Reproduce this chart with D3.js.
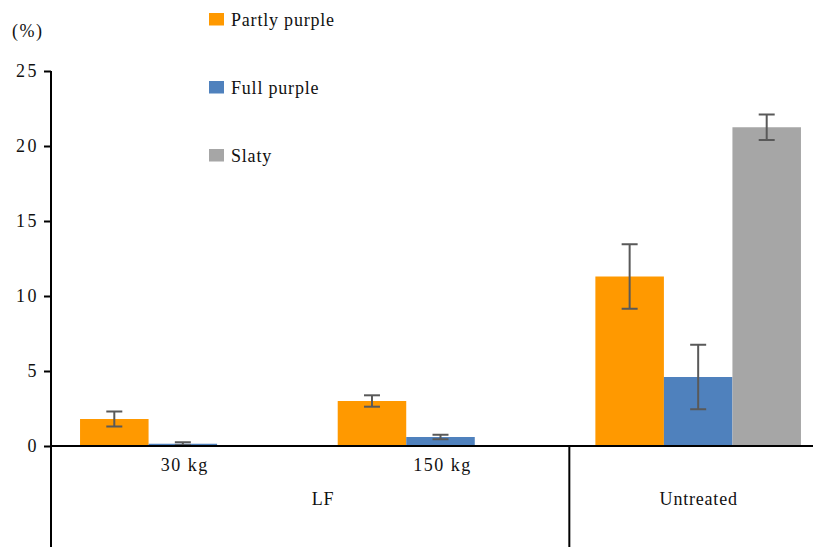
<!DOCTYPE html>
<html>
<head>
<meta charset="utf-8">
<script src="https://cdn.jsdelivr.net/npm/d3@7"></script>
<style>
  html, body { margin: 0; padding: 0; background: #fff; }
  svg { display: block; }
</style>
</head>
<body>
<svg id="chart" width="813" height="547"></svg>
<script>
// Subgroups along the x axis and their parent groups
const categories = ["30 kg", "150 kg", "Untreated"];
const groupOf = ["LF", "LF", "Untreated"];
const series = ["Partly purple", "Full purple", "Slaty"];
const colors = ["#FF9900", "#4F81BD", "#A6A6A6"];

// Mean percentages per category, one array per series (null = no bar)
const partlyPurple = [1.8, 3.0, 11.3];
const fullPurple = [0.15, 0.6, 4.6];
const slaty = [null, null, 21.25];

// Error bar half-widths
const partlyPurpleErr = [0.5, 0.38, 2.15];
const fullPurpleErr = [0.1, 0.15, 2.15];
const slatyErr = [null, null, 0.85];

const yTicks = [0, 5, 10, 15, 20, 25];

const values = [partlyPurple, fullPurple, slaty];
const errors = [partlyPurpleErr, fullPurpleErr, slatyErr];

const FONT = "Liberation Serif";
const INK = "#111";
const svg = d3.select("#chart").attr("font-family", FONT);
const plotLeft = 51, plotRight = 824, plotTop = 71, zeroY = 446, bottomEdge = 547;
const shift = 3;

const y = d3.scaleLinear().domain([0, 25]).range([zeroY, plotTop]);
const x0 = d3.scaleBand().domain(categories).range([plotLeft + shift, plotRight + shift]);
const x1 = d3.scaleBand().domain(series).range([0, x0.bandwidth()])
  .paddingInner(0).paddingOuter(0.38);

// Bars
const rows = [];
categories.forEach((c, i) => {
  series.forEach((s, j) => {
    if (values[j][i] != null) rows.push({ c, s, j, v: values[j][i], e: errors[j][i] });
  });
});

svg.append("g").selectAll("rect").data(rows).join("rect")
  .attr("x", d => x0(d.c) + x1(d.s))
  .attr("y", d => y(d.v))
  .attr("width", x1.bandwidth())
  .attr("height", d => y(0) - y(d.v))
  .attr("fill", d => colors[d.j]);

// Error bars
const eg = svg.append("g").attr("stroke", "#595959").attr("stroke-width", 2).attr("fill", "none");
rows.forEach(d => {
  const cx = x0(d.c) + x1(d.s) + x1.bandwidth() / 2;
  const y1 = y(d.v + d.e), y2 = y(Math.max(0, d.v - d.e));
  eg.append("line").attr("x1", cx).attr("x2", cx).attr("y1", y1).attr("y2", y2);
  eg.append("line").attr("x1", cx - 8).attr("x2", cx + 8).attr("y1", y1).attr("y2", y1);
  eg.append("line").attr("x1", cx - 8).attr("x2", cx + 8).attr("y1", y2).attr("y2", y2);
});

// Y axis
const yAxis = d3.axisLeft(y).tickValues(yTicks).tickSize(7).tickPadding(5);
const ya = svg.append("g").attr("transform", `translate(${plotLeft},0)`).call(yAxis);
ya.attr("font-family", FONT).attr("font-size", 18);
ya.select(".domain").remove();
ya.selectAll(".tick line").attr("stroke", "#000").attr("stroke-width", 2);
ya.selectAll(".tick text").attr("fill", INK).attr("letter-spacing", 2.5);
svg.append("line").attr("x1", plotLeft).attr("x2", plotLeft).attr("y1", plotTop).attr("y2", bottomEdge)
  .attr("stroke", "#000").attr("stroke-width", 2);

// X axis baseline
svg.append("line").attr("x1", plotLeft).attr("x2", 813).attr("y1", zeroY).attr("y2", zeroY)
  .attr("stroke", "#000").attr("stroke-width", 2);

// Divider between the LF and Untreated groups
const divX = x0("Untreated");
svg.append("line").attr("x1", divX).attr("x2", divX).attr("y1", zeroY).attr("y2", bottomEdge)
  .attr("stroke", "#000").attr("stroke-width", 2);

// Subcategory labels, centred on their band
svg.append("g").selectAll("text").data(categories.filter((c, i) => groupOf[i] !== c)).join("text")
  .attr("x", c => x0(c) + x0.bandwidth() / 2 + 2)
  .attr("y", 470.5)
  .attr("text-anchor", "middle")
  .attr("font-size", 18)
  .attr("letter-spacing", 1.5)
  .attr("fill", INK)
  .text(c => c);

// Group labels
svg.append("text").attr("x", 323).attr("y", 505).attr("text-anchor", "middle")
  .attr("font-size", 18).attr("letter-spacing", 0.8).attr("fill", INK).text("LF");
svg.append("text").attr("x", x0("Untreated") + x0.bandwidth() / 2 + 0.5)
  .attr("y", 505).attr("text-anchor", "middle").attr("font-size", 18).attr("letter-spacing", 0.8)
  .attr("fill", INK).text("Untreated");

// Unit label
svg.append("text").attr("x", 12).attr("y", 37).attr("font-size", 18).attr("letter-spacing", 1.5)
  .attr("fill", INK).text("(%)");

// Legend
const lg = svg.append("g").selectAll("g").data(series).join("g")
  .attr("transform", (d, i) => `translate(209,${13 + i * 68})`);
lg.append("rect").attr("width", 15).attr("height", 12.5).attr("fill", (d, i) => colors[i]);
lg.append("text").attr("x", 22).attr("y", 13).attr("font-size", 18).attr("letter-spacing", 0.8)
  .attr("fill", INK).text(d => d);
</script>
</body>
</html>
